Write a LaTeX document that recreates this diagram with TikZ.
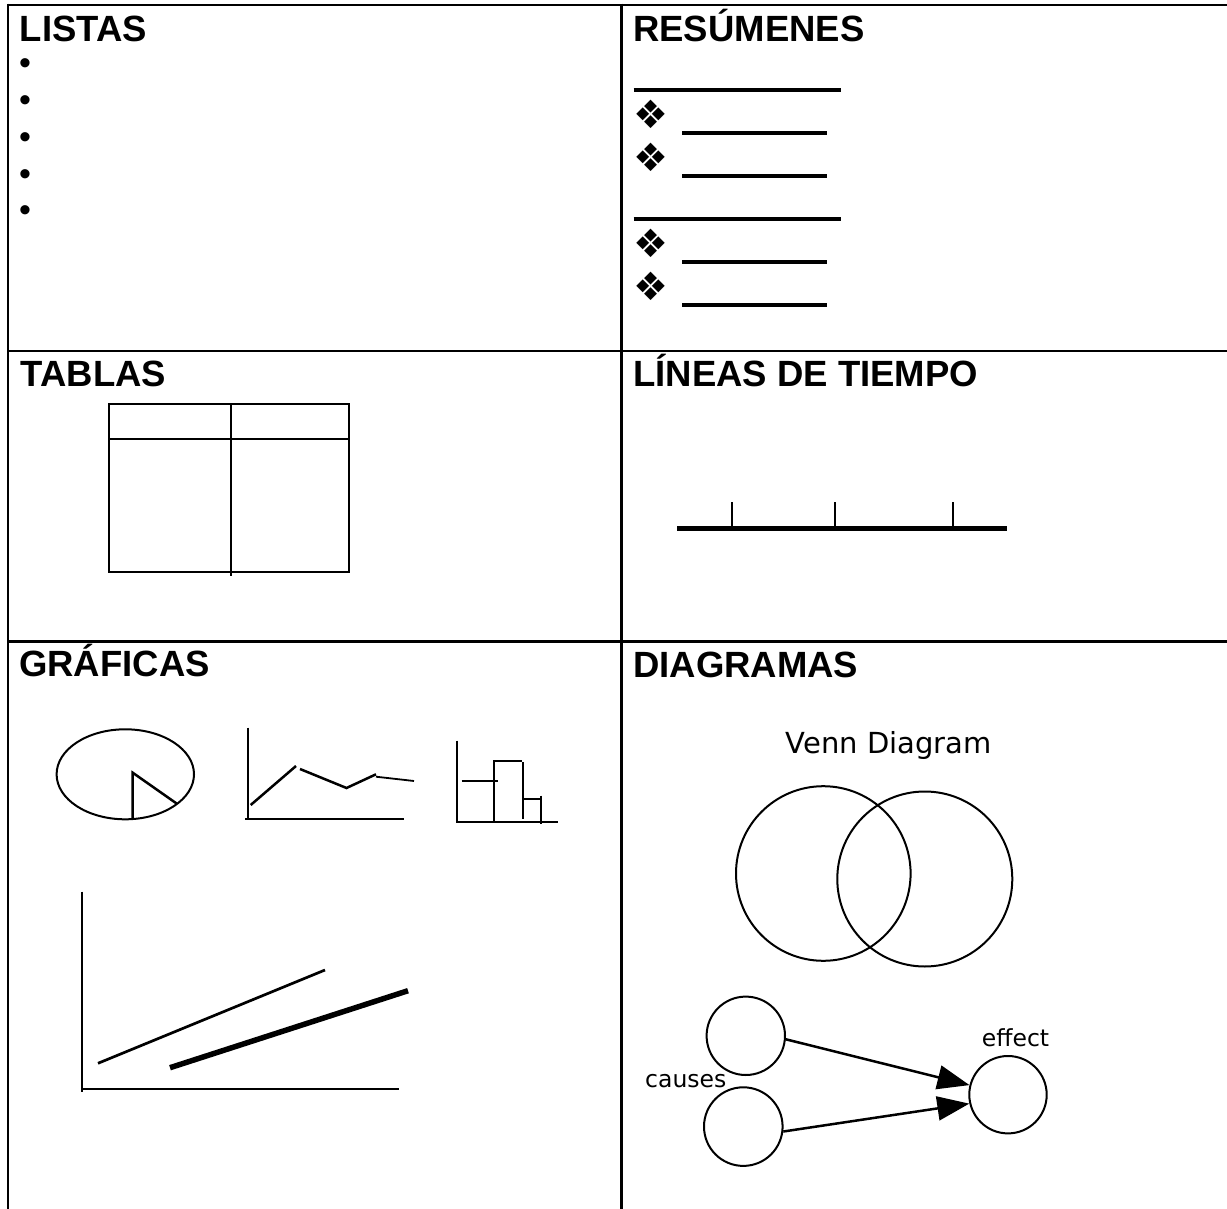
\documentclass[tikz,border=0pt]{standalone}
\usepackage{fontspec}
\setmainfont{Liberation Sans}
\newfontfamily\dejavu{DejaVu Sans}
\usetikzlibrary{shapes.geometric,arrows.meta}
\begin{document}
\begin{tikzpicture}[x=1pt,y=-1pt,
  title/.style={anchor=base west,inner sep=0,font=\bfseries\fontsize{36.5}{40}\selectfont},
  gridline/.style={line width=2.5pt},
  thinline/.style={line width=2pt},
  uline/.style={line width=4pt},
  dia/.style={inner sep=0,font=\dejavu\fontsize{39}{40}\selectfont},
  bul/.style={inner sep=0,font=\fontsize{34}{36}\selectfont},
  circ/.style={draw,circle,line width=2pt,inner sep=0},
  small/.style={anchor=base west,inner sep=0,font=\dejavu\fontsize{23.5}{26}\selectfont},
  arr/.style={line width=2.5pt,-{Triangle[length=32pt,width=24pt]}}
]
\useasboundingbox (0,0) rectangle (1227,1209);
% grid
\draw[gridline] (8,5) -- (1227,5);
\draw[gridline] (8,351) -- (1227,351);
\draw[gridline] (8,641.5) -- (1227,641.5);
\draw[gridline] (8,3.75) -- (8,1209);
\draw[gridline] (621.5,3.75) -- (621.5,1209);

% titles
\node[title] (tListas) at (19.5,42) {LISTAS};
\node[title] (tRes) at (633,42) {RESÚMENES};
\node[title] (tTab) at (20.5,386.7) {TABLAS};
\node[title] (tLin) at (633,386.7) {LÍNEAS DE TIEMPO};
\node[title] (tGra) at (19,676.7) {GRÁFICAS};
\node[title] (tDia) at (633,677) {DIAGRAMAS};

% listas bullets
\foreach \yy/\nm in {67/b1,103.3/b2,140.7/b3,177.3/b4,214/b5}
  \node[bul] (\nm) at (25,\yy) {•};

% resumenes
\draw[uline] (633.5,90) -- (840.7,90);
\draw[uline] (633.5,219) -- (840.7,219);
\foreach \yy in {133.3,176,262,305}
  \draw[uline] (682,\yy) -- (827,\yy);
\foreach \yy/\nm in {114.7/d1,157.2/d2,243.5/d3,286/d4}
  \node[dia] (\nm) at (650.5,\yy) {❖};

% table
\draw[thinline] (108.7,404) rectangle (349,572);
\draw[thinline] (108.7,439) -- (349,439);
\draw[thinline] (231.3,404) -- (231.3,575.5);

% timeline
\draw[line width=5pt] (677,528.3) -- (1007,528.3);
\foreach \xx in {731.5,835,953}
  \draw[thinline] (\xx,502) -- (\xx,526);

% pie chart
\draw[thinline] (125.3,774.3) ellipse [x radius=68.7pt, y radius=45pt];
\draw[line width=2.5pt] (132.7,819.3) -- (132.7,772.7) -- (177.3,804);

% line chart
\draw[thinline] (248.3,727.7) -- (248.3,820);
\draw[thinline] (245,819) -- (404,819);
\draw[line width=2.5pt] (250.7,805) -- (296,766);
\draw[line width=2.5pt] (300,769) -- (346.5,788) -- (376,774.3);
\draw[line width=1.8pt] (376,776.7) -- (414,781);

% bar chart
\draw[thinline] (456.7,740.7) -- (456.7,822.7);
\draw[thinline] (456.7,822.3) -- (558.3,822.3);
\draw[thinline] (461.7,781) -- (498.3,781);
\draw[thinline] (494,822.3) -- (494,760.7) -- (521.7,760.7);
\draw[thinline] (523.3,762.3) -- (523.3,819.3);
\draw[thinline] (524,799) -- (541.7,799);
\draw[thinline] (541,795.7) -- (541,824.3);

% big chart
\draw[line width=1.5pt] (82.2,891.7) -- (82.2,1091.7);
\draw[line width=1.5pt] (82.2,1089) -- (398.6,1089);
\draw[line width=2.7pt] (98,1063.3) -- (325,970);
\draw[line width=5.5pt] (170,1067.7) -- (408,990.7);

% venn
\node[font=\dejavu\fontsize{29}{32}\selectfont,anchor=base west,inner sep=0] (vt) at (785.7,753) {Venn Diagram};
\node[circ,minimum size=174.6] (vA) at (823.3,873.5) {};
\node[circ,minimum size=175] (vB) at (924.8,879) {};

% cause-effect
\node[circ,minimum size=78.4] (c1) at (745.8,1035.8) {};
\node[circ,minimum size=78.6] (c2) at (743.3,1126.6) {};
\node[circ,minimum size=77.4] (eff) at (1008,1094.7) {};
\node[small] (lc) at (645,1087.8) {causes};
\node[small] (le) at (981.7,1046.7) {effect};
\draw[arr] (c1.-5) -- (eff.166);
\draw[arr] (c2.-7) -- (eff.193.5);
\end{tikzpicture}
\end{document}
